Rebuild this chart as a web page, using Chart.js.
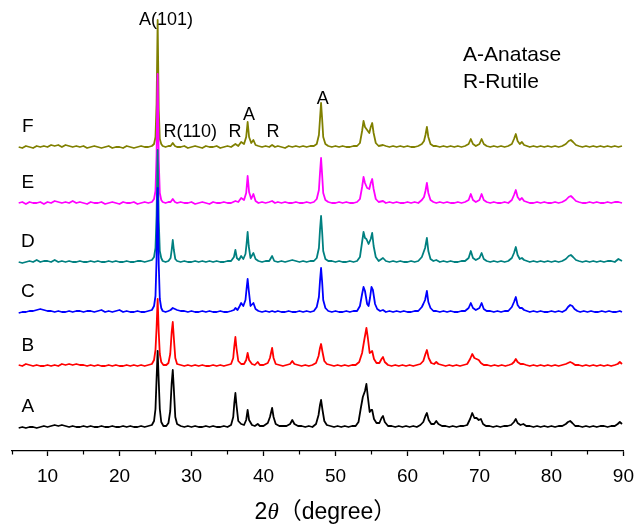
<!DOCTYPE html>
<html>
<head>
<meta charset="utf-8">
<title>XRD patterns</title>
<script src="https://cdn.jsdelivr.net/npm/chart.js"></script>
<style>
  body { margin: 0; background: #fff; }
  canvas { display: block; }
</style>
</head>
<body>
<canvas id="xrd" width="643" height="531"></canvas>
<script>

// 2theta (deg) / intensity (a.u.) for each sample, baseline near 2
var sampleA = [[6,1],[6.5,2],[7,1],[7.5,2],[8,2],[8.5,1],[9,2],[9.5,3],[10,2],[10.5,3],[11,4],[11.5,3],[12,4],[12.5,3],[13,2],[13.5,3],[14,2],[14.5,2],[15,3],[15.5,2],[16,3],[16.5,2],[17,2],[17.5,3],[18,2],[18.5,2],[19,3],[19.5,2],[20,2],[20.5,3],[21,2],[21.5,3],[22,2],[22.5,2],[23,3],[23.5,2],[24,3],[24.5,4],
  [24.8,8],[25.0,20],[25.15,50],[25.3,78],[25.45,48],[25.6,20],[25.8,7],[26.1,3],[26.5,3],[26.8,6],[27.05,18],[27.25,46],[27.4,59],[27.55,40],[27.75,12],[28.0,5],[28.5,3],[29,2],[29.5,3],[30,2],[30.5,3],[31,2],[31.5,2],[32,3],[32.5,2],[33,3],[33.5,2],[34,2],[34.5,3],[35,2],[35.5,4],[35.8,12],[35.95,26],[36.1,36],[36.25,24],[36.5,8],[36.9,5],[37.3,4],[37.6,9],[37.8,19],[38.0,9],[38.4,4],[38.8,3],[39.2,5],[39.5,3],[40,3],[40.6,6],[40.9,12],[41.2,21],[41.4,12],[41.7,5],[42.2,3],[42.7,3],[43.2,3],[43.7,5],[44.0,9],[44.3,5],[44.8,3],[45.3,3],[45.8,2],[46.3,3],[46.8,2],[47.3,5],[47.65,14],[47.85,24],[48.0,29],[48.2,19],[48.45,8],[48.8,4],[49.3,3],[49.8,2],[50.3,3],[50.8,2],[51.3,3],[51.8,2],[52.3,3],[52.8,3],[53.2,7],[53.5,20],[53.8,32],[54.1,38],[54.3,45],[54.5,32],[54.75,17],[54.95,19],[55.1,19],[55.35,10],[55.7,6],[56.1,6],[56.4,11],[56.6,13],[56.85,7],[57.3,3],[57.8,3],[58.3,2],[58.8,3],[59.3,2],[59.8,3],[60.3,2],[60.8,3],[61.3,2],[61.8,4],[62.2,7],[62.5,13],[62.7,16],[62.95,9],[63.3,5],[63.7,5],[64.0,8],[64.3,5],[64.8,3],[65.3,3],[65.8,2],[66.3,3],[66.8,2],[67.3,3],[67.8,3],[68.3,4],[68.7,10],[69.0,16],[69.3,11],[69.6,11],[69.9,9],[70.2,10],[70.5,5],[70.9,3],[71.4,3],[71.9,2],[72.4,3],[72.9,2],[73.4,3],[73.9,3],[74.4,4],[74.8,7],[75.05,10],[75.3,6],[75.7,4],[76.1,5],[76.5,3],[77,3],[77.5,2],[78,3],[78.5,2],[79,3],[79.5,2],[80,3],[80.5,2],[81,3],[81.5,3],[82,5],[82.3,7],[82.6,8],[82.9,6],[83.3,3],[83.8,3],[84.3,2],[84.8,3],[85.3,2],[85.8,3],[86.3,2],[86.8,3],[87.3,3],[87.8,2],[88.3,3],[88.8,3],[89.2,5],[89.5,7],[89.8,5]];

var sampleB = [[6,3],[6.5,2],[7,4],[7.5,3],[8,2],[8.5,3],[9,2],[9.5,2],[10,3],[10.5,2],[11,3],[11.5,2],[12,4],[12.5,3],[13,4],[13.5,3],[14,4],[14.5,3],[15,3],[15.5,2],[16,3],[16.5,2],[17,3],[17.5,2],[18,2],[18.5,3],[19,2],[19.5,3],[20,2],[20.5,2],[21,3],[21.5,2],[22,3],[22.5,2],[23,3],[23.5,2],[24,3],[24.5,4],
  [24.8,8],[25.0,18],[25.15,40],[25.3,69],[25.45,36],[25.6,14],[25.8,6],[26.1,3],[26.5,3],[26.8,5],[27.05,14],[27.25,36],[27.4,46],[27.55,30],[27.75,10],[28.0,4],[28.5,3],[29,2],[29.5,3],[30,2],[30.5,3],[31,2],[31.5,3],[32,2],[32.5,2],[33,3],[33.5,2],[34,3],[34.5,2],[35,3],[35.5,4],[35.8,10],[35.95,22],[36.1,31],[36.25,20],[36.5,7],[36.9,4],[37.3,4],[37.6,8],[37.8,15],[38.0,8],[38.4,4],[38.8,3],[39.2,6],[39.5,3],[40,3],[40.6,5],[40.9,10],[41.2,20],[41.4,10],[41.7,4],[42.2,3],[42.7,2],[43.2,3],[43.7,4],[44.0,7],[44.3,4],[44.8,3],[45.3,2],[45.8,3],[46.3,2],[46.8,3],[47.3,5],[47.65,12],[47.85,20],[48.0,24],[48.2,16],[48.45,7],[48.8,4],[49.3,3],[49.8,2],[50.3,3],[50.8,2],[51.3,3],[51.8,2],[52.3,3],[52.8,3],[53.3,6],[53.7,15],[54.0,28],[54.3,40],[54.5,30],[54.75,15],[54.95,16],[55.1,17],[55.35,9],[55.7,5],[56.1,5],[56.4,9],[56.6,11],[56.85,6],[57.3,3],[57.8,2],[58.3,3],[58.8,2],[59.3,3],[59.8,2],[60.3,3],[60.8,2],[61.3,3],[61.8,4],[62.2,7],[62.5,14],[62.7,18],[62.95,10],[63.3,5],[63.7,4],[64.0,6],[64.3,4],[64.8,3],[65.3,2],[65.8,3],[66.3,2],[66.8,3],[67.3,2],[67.8,3],[68.3,4],[68.7,9],[69.0,14],[69.3,10],[69.6,9],[69.9,8],[70.2,5],[70.6,3],[71.1,3],[71.6,2],[72.1,3],[72.6,2],[73.1,3],[73.6,2],[74.1,3],[74.5,4],[74.8,6],[75.05,9],[75.3,6],[75.7,4],[76.1,4],[76.5,3],[77,2],[77.5,3],[78,2],[78.5,3],[79,2],[79.5,3],[80,2],[80.5,3],[81,2],[81.5,3],[82,4],[82.3,5],[82.6,6],[82.9,5],[83.3,3],[83.8,3],[84.3,2],[84.8,3],[85.3,2],[85.8,3],[86.3,2],[86.8,3],[87.3,2],[87.8,3],[88.3,2],[88.8,3],[89.2,4],[89.5,6],[89.8,4]];

var sampleC = [[6,1],[6.5,2],[7,2],[7.5,3],[8,3],[8.5,4],[9,5],[9.5,4],[10,3],[10.5,3],[11,2],[11.5,3],[12,2],[12.5,2],[13,3],[13.5,2],[14,3],[14.5,3],[15,2],[15.5,3],[16,3],[16.5,2],[17,3],[17.5,4],[18,2],[18.5,3],[19,2],[19.5,3],[20,4],[20.5,2],[21,3],[21.5,2],[22,2],[22.5,3],[23,2],[23.5,2],[24,3],[24.5,4],
  [24.8,8],[25.0,18],[25.15,55],[25.3,126],[25.45,50],[25.6,15],[25.8,6],[26.0,3],[26.4,2],[26.8,3],[27.1,4],[27.4,6],[27.7,5],[28.0,4],[28.5,3],[29,3],[29.5,2],[30,3],[30.5,2],[31,2],[31.5,3],[32,2],[32.5,3],[33,2],[33.5,2],[34,3],[34.5,2],[35,2],[35.5,3],[35.9,4],[36.1,6],[36.4,4],[36.7,8],[36.9,11],[37.2,8],[37.5,14],[37.65,25],[37.8,35],[37.95,24],[38.2,8],[38.6,11],[38.9,5],[39.3,3],[39.8,2],[40.3,3],[40.8,2],[41.2,3],[41.6,2],[42,3],[42.5,2],[43,2],[43.5,3],[44,2],[44.5,2],[45,3],[45.5,2],[46,3],[46.5,2],[47,3],[47.4,7],[47.7,17],[47.85,33],[48.0,46],[48.15,32],[48.3,14],[48.6,6],[49,3],[49.5,2],[50,3],[50.5,2],[51,2],[51.5,3],[52,2],[52.5,3],[53,3],[53.4,8],[53.7,20],[53.9,27],[54.1,23],[54.4,10],[54.6,8],[54.8,16],[55.0,27],[55.2,24],[55.5,10],[55.8,5],[56.2,3],[56.6,4],[57,2],[57.5,3],[58,2],[58.5,3],[59,2],[59.5,3],[60,2],[60.5,2],[61,3],[61.5,3],[62,7],[62.2,10],[62.45,14],[62.7,23],[62.9,12],[63.2,6],[63.6,3],[64,3],[64.5,2],[65,3],[65.5,2],[66,3],[66.5,2],[67,2],[67.5,3],[68,3],[68.5,6],[68.8,11],[69.1,6],[69.5,4],[70,6],[70.3,11],[70.6,5],[71,3],[71.5,3],[72,2],[72.5,3],[73,2],[73.5,3],[74,3],[74.5,7],[74.8,12],[75.05,17],[75.3,9],[75.6,6],[75.9,6],[76.2,4],[76.6,3],[77,2],[77.5,3],[78,2],[78.5,3],[79,2],[79.5,2],[80,3],[80.5,2],[81,3],[81.5,2],[82,4],[82.3,7],[82.6,9],[82.9,8],[83.2,5],[83.6,3],[84,2],[84.5,3],[85,2],[85.5,3],[86,2],[86.5,2],[87,3],[87.5,2],[88,3],[88.5,2],[89,2],[89.5,3],[89.8,2]];

var sampleD = [[6,2],[6.5,1],[7,2],[7.5,3],[8,2],[8.5,4],[9,2],[9.5,3],[10,3],[10.5,2],[11,4],[11.5,2],[12,3],[12.5,2],[13,3],[13.5,2],[14,2],[14.5,3],[15,2],[15.5,2],[16,3],[16.5,2],[17,3],[17.5,2],[18,2],[18.5,3],[19,2],[19.5,3],[20,2],[20.5,2],[21,3],[21.5,2],[22,2],[22.5,3],[23,3],[23.5,2],[24,3],[24.5,4],
  [24.8,7],[25.0,16],[25.15,48],[25.3,114],[25.45,44],[25.6,13],[25.8,6],[26.0,3],[26.4,2],[26.8,3],[27.1,6],[27.25,14],[27.4,24],[27.55,14],[27.75,5],[28.0,3],[28.5,2],[29,3],[29.5,2],[30,2],[30.5,3],[31,2],[31.5,3],[32,2],[32.5,3],[33,2],[33.5,3],[34,2],[34.5,2],[35,3],[35.5,3],[35.9,7],[36.1,14],[36.3,6],[36.6,4],[36.9,8],[37.2,5],[37.5,10],[37.65,20],[37.8,32],[37.95,18],[38.2,6],[38.6,11],[38.9,5],[39.3,3],[39.8,2],[40.3,3],[40.8,3],[41.2,8],[41.5,3],[42,2],[42.5,3],[43,2],[43.5,3],[44,4],[44.5,3],[45,2],[45.5,3],[46,2],[46.5,3],[47,3],[47.4,6],[47.7,16],[47.85,34],[48.0,48],[48.15,32],[48.3,13],[48.6,5],[49,3],[49.5,3],[50,2],[50.5,3],[51,2],[51.5,2],[52,3],[52.5,2],[53,3],[53.4,7],[53.7,22],[53.9,32],[54.1,26],[54.3,25],[54.6,20],[54.9,25],[55.1,31],[55.3,18],[55.6,7],[56,3],[56.6,6],[57,3],[57.5,2],[58,3],[58.5,2],[59,3],[59.5,2],[60,2],[60.5,3],[61,2],[61.5,3],[62,7],[62.2,11],[62.45,16],[62.7,26],[62.9,13],[63.2,5],[63.6,3],[64,4],[64.5,2],[65,3],[65.5,2],[66,3],[66.5,2],[67,2],[67.5,3],[68,3],[68.5,6],[68.8,13],[69.1,6],[69.5,4],[70,6],[70.3,11],[70.6,5],[71,3],[71.5,2],[72,3],[72.5,2],[73,3],[73.5,2],[74,3],[74.5,6],[74.8,11],[75.05,17],[75.3,9],[75.6,5],[75.9,6],[76.2,4],[76.6,3],[77,2],[77.5,3],[78,2],[78.5,3],[79,2],[79.5,3],[80,2],[80.5,3],[81,2],[81.5,3],[82,5],[82.4,8],[82.7,9],[83,7],[83.4,4],[83.8,3],[84.3,2],[84.8,3],[85.3,2],[85.8,3],[86.3,2],[86.8,3],[87.3,2],[87.8,3],[88.3,3],[88.8,2],[89.3,5],[89.8,3]];

var sampleE = [[6,2],[6.5,3],[7,1],[7.5,3],[8,2],[8.5,2],[9,3],[9.5,1],[10,3],[10.5,2],[11,4],[11.5,3],[12,2],[12.5,3],[13,2],[13.5,4],[14,2],[14.5,3],[15,2],[15.5,1],[16,3],[16.5,2],[17,2],[17.5,3],[18,1],[18.5,2],[19,3],[19.5,2],[20,1],[20.5,3],[21,2],[21.5,2],[22,3],[22.5,1],[23,2],[23.5,3],[24,2],[24.5,3],
  [24.8,6],[25.0,14],[25.15,50],[25.3,131],[25.45,45],[25.6,12],[25.8,5],[26.0,3],[26.4,2],[26.8,3],[27.1,3],[27.4,6],[27.7,3],[28.0,2],[28.5,3],[29,2],[29.5,2],[30,3],[30.5,1],[31,2],[31.5,3],[32,2],[32.5,1],[33,3],[33.5,2],[34,2],[34.5,3],[35,2],[35.5,2],[36.1,4],[36.5,3],[36.9,7],[37.3,5],[37.6,12],[37.8,29],[38.0,13],[38.3,6],[38.6,11],[38.9,4],[39.3,2],[39.8,3],[40.3,2],[40.8,3],[41.2,4],[41.6,2],[42,3],[42.5,2],[43,3],[43.5,2],[44,2],[44.5,3],[45,2],[45.5,2],[46,3],[46.5,2],[47,3],[47.4,6],[47.7,15],[47.85,32],[48.0,47],[48.15,30],[48.3,12],[48.6,5],[49,3],[49.5,2],[50,2],[50.5,3],[51,2],[51.5,3],[52,2],[52.5,2],[53,3],[53.4,6],[53.7,18],[53.9,28],[54.1,22],[54.4,17],[54.7,16],[54.9,22],[55.1,26],[55.3,16],[55.6,6],[56,3],[56.6,4],[57,2],[57.5,3],[58,2],[58.5,3],[59,2],[59.5,2],[60,3],[60.5,2],[61,3],[61.5,2],[62,5],[62.3,8],[62.5,14],[62.7,22],[62.9,12],[63.2,5],[63.6,3],[64,2],[64.5,3],[65,2],[65.5,3],[66,2],[66.5,2],[67,3],[67.5,2],[68,3],[68.5,5],[68.8,11],[69.1,5],[69.5,3],[70,5],[70.3,11],[70.6,5],[71,3],[71.5,2],[72,3],[72.5,2],[73,2],[73.5,3],[74,2],[74.5,5],[74.8,10],[75.05,15],[75.3,8],[75.6,5],[75.9,7],[76.2,4],[76.6,3],[77,2],[77.5,2],[78,3],[78.5,2],[79,3],[79.5,2],[80,2],[80.5,3],[81,2],[81.5,3],[82,5],[82.4,8],[82.7,9],[83,7],[83.4,4],[83.8,3],[84.3,2],[84.8,2],[85.3,3],[85.8,2],[86.3,3],[86.8,2],[87.3,2],[87.8,3],[88.3,2],[88.8,3],[89.3,3],[89.8,2]];

var sampleF = [[6,2],[6.5,1],[7,3],[7.5,2],[8,1],[8.5,3],[9,2],[9.5,3],[10,2],[10.5,4],[11,3],[11.5,4],[12,2],[12.5,4],[13,3],[13.5,2],[14,3],[14.5,2],[15,3],[15.5,1],[16,2],[16.5,3],[17,2],[17.5,1],[18,2],[18.5,3],[19,1],[19.5,2],[20,2],[20.5,1],[21,3],[21.5,2],[22,1],[22.5,2],[23,3],[23.5,2],[24,2],[24.5,3],
  [24.8,5],[25.0,12],[25.15,45],[25.3,129],[25.45,40],[25.6,10],[25.8,5],[26.0,3],[26.4,2],[26.8,3],[27.1,3],[27.4,6],[27.7,3],[28.0,2],[28.5,2],[29,3],[29.5,1],[30,2],[30.5,3],[31,2],[31.5,1],[32,3],[32.5,2],[33,2],[33.5,3],[34,1],[34.5,2],[35,3],[35.5,2],[36.1,5],[36.5,3],[36.9,7],[37.3,5],[37.6,12],[37.8,27],[38.0,12],[38.3,6],[38.6,9],[38.9,4],[39.3,3],[39.8,2],[40.3,3],[40.8,2],[41.2,4],[41.6,2],[42,3],[42.5,2],[43,1],[43.5,3],[44,2],[44.5,3],[45,2],[45.5,3],[46,2],[46.5,3],[47,3],[47.4,5],[47.7,14],[47.85,30],[48.0,46],[48.15,30],[48.3,12],[48.6,5],[49,3],[49.5,2],[50,3],[50.5,2],[51,3],[51.5,2],[52,2],[52.5,3],[53,3],[53.4,6],[53.7,18],[53.9,28],[54.1,22],[54.4,19],[54.7,16],[54.9,22],[55.1,26],[55.3,16],[55.6,6],[56,3],[56.6,4],[57,3],[57.5,2],[58,3],[58.5,2],[59,3],[59.5,2],[60,3],[60.5,2],[61,2],[61.5,3],[62,5],[62.3,8],[62.5,14],[62.7,22],[62.9,12],[63.2,5],[63.6,3],[64,3],[64.5,2],[65,3],[65.5,2],[66,3],[66.5,2],[67,3],[67.5,2],[68,3],[68.5,5],[68.8,10],[69.1,5],[69.5,3],[70,5],[70.3,10],[70.6,5],[71,3],[71.5,2],[72,3],[72.5,2],[73,3],[73.5,2],[74,3],[74.5,5],[74.8,10],[75.05,15],[75.3,8],[75.6,5],[75.9,7],[76.2,4],[76.6,3],[77,2],[77.5,3],[78,2],[78.5,3],[79,2],[79.5,3],[80,2],[80.5,3],[81,2],[81.5,3],[82,5],[82.4,8],[82.7,9],[83,7],[83.4,4],[83.8,3],[84.3,2],[84.8,3],[85.3,2],[85.8,3],[86.3,2],[86.8,3],[87.3,2],[87.8,3],[88.3,2],[88.8,3],[89.3,2],[89.8,3]];

var sampleNames = ["A", "B", "C", "D", "E", "F"];
var sampleData = [sampleA, sampleB, sampleC, sampleD, sampleE, sampleF];
var stackOffset = [22, 83, 137, 187, 246, 302];
var lineColors = ["#000000", "#ff0000", "#0000ff", "#008080", "#ff00ff", "#808000"];
var majorTicks = [10, 20, 30, 40, 50, 60, 70, 80, 90];
var minorTicks = [5, 15, 25, 35, 45, 55, 65, 75, 85];

// peak labels: text, 2theta, height on the stacked scale
var peakLabels = [
  ["A(101)", 26.47, 431],
  ["R(110)", 29.83, 319],
  ["R", 36.05, 319],
  ["A", 37.99, 335.5],
  ["R", 41.31, 319],
  ["A", 48.22, 351.5]
];
var phaseKey = ["A-Anatase", "R-Rutile"];

var FONT = "'Liberation Sans', Arial, sans-serif";

var datasets = [];
for (var i = 0; i < sampleData.length; i++) {
  var off = stackOffset[i];
  datasets.push({
    label: sampleNames[i],
    data: sampleData[i].map(function (p) { return { x: p[0], y: p[1] + off }; }),
    borderColor: lineColors[i],
    borderWidth: 1.8,
    borderJoinStyle: "round",
    pointRadius: 0,
    fill: false,
    tension: 0
  });
}

// short ticks halfway between the labelled ones
var minorTickPlugin = {
  id: "minorTicks",
  afterDraw: function (chart) {
    var ctx = chart.ctx, xs = chart.scales.x, y0 = chart.chartArea.bottom;
    ctx.save();
    ctx.strokeStyle = "#000";
    ctx.lineWidth = 1.2;
    minorTicks.forEach(function (v) {
      var px = Math.round(xs.getPixelForValue(v)) + 0.5;
      ctx.beginPath();
      ctx.moveTo(px, y0);
      ctx.lineTo(px, y0 + 3.5);
      ctx.stroke();
    });
    ctx.restore();
  }
};

// sample letters, peak assignments, phase key and axis title
var textPlugin = {
  id: "texts",
  afterDraw: function (chart) {
    var ctx = chart.ctx, xs = chart.scales.x, ys = chart.scales.y;
    ctx.save();
    ctx.fillStyle = "#000";
    ctx.textBaseline = "middle";

    ctx.textAlign = "center";
    ctx.font = "19px " + FONT;
    for (var i = 0; i < sampleNames.length; i++) {
      ctx.fillText(sampleNames[i], xs.getPixelForValue(7.28), ys.getPixelForValue(stackOffset[i] + 22));
    }

    ctx.font = "18px " + FONT;
    peakLabels.forEach(function (l) {
      ctx.fillText(l[0], xs.getPixelForValue(l[1]), ys.getPixelForValue(l[2]));
    });

    ctx.textAlign = "left";
    ctx.font = "21px " + FONT;
    ctx.fillText(phaseKey[0], xs.getPixelForValue(67.72), ys.getPixelForValue(396));
    ctx.fillText(phaseKey[1], xs.getPixelForValue(67.72), ys.getPixelForValue(369));

    // 2θ（degree） with an italic theta
    var parts = [
      ["2", "23px " + FONT],
      ["\u03b8", "italic 23px 'Liberation Serif', 'DejaVu Serif', serif"],
      ["\uff08degree\uff09", "23px " + FONT + ", 'Noto Sans CJK SC'"]
    ];
    var total = 0;
    parts.forEach(function (p) { ctx.font = p[1]; total += ctx.measureText(p[0]).width; });
    var x = (chart.chartArea.left + chart.chartArea.right) / 2 + 8 - total / 2;
    var ty = 513;
    parts.forEach(function (p) {
      ctx.font = p[1];
      ctx.fillText(p[0], x, ty);
      x += ctx.measureText(p[0]).width;
    });
    ctx.restore();
  }
};

new Chart(document.getElementById("xrd"), {
  type: "line",
  data: { datasets: datasets },
  options: {
    responsive: false,
    animation: false,
    layout: { padding: { left: 11.5, right: 17, top: 0, bottom: 0 } },
    plugins: {
      legend: { display: false },
      tooltip: { enabled: false }
    },
    scales: {
      x: {
        type: "linear",
        min: 5,
        max: 90,
        afterBuildTicks: function (s) {
          s.ticks = majorTicks.map(function (v) { return { value: v }; });
        },
        afterFit: function (s) { s.height = 80; },
        border: { display: true, color: "#000", width: 1.3 },
        grid: { drawOnChartArea: false, drawTicks: true, tickLength: 5, tickColor: "#000", tickWidth: 1.3 },
        ticks: { color: "#000", font: { family: FONT, size: 19 }, padding: 9, maxRotation: 0, autoSkip: false }
      },
      y: { display: false, min: 0, max: 451 }
    }
  },
  plugins: [minorTickPlugin, textPlugin]
});
</script>
</body>
</html>
